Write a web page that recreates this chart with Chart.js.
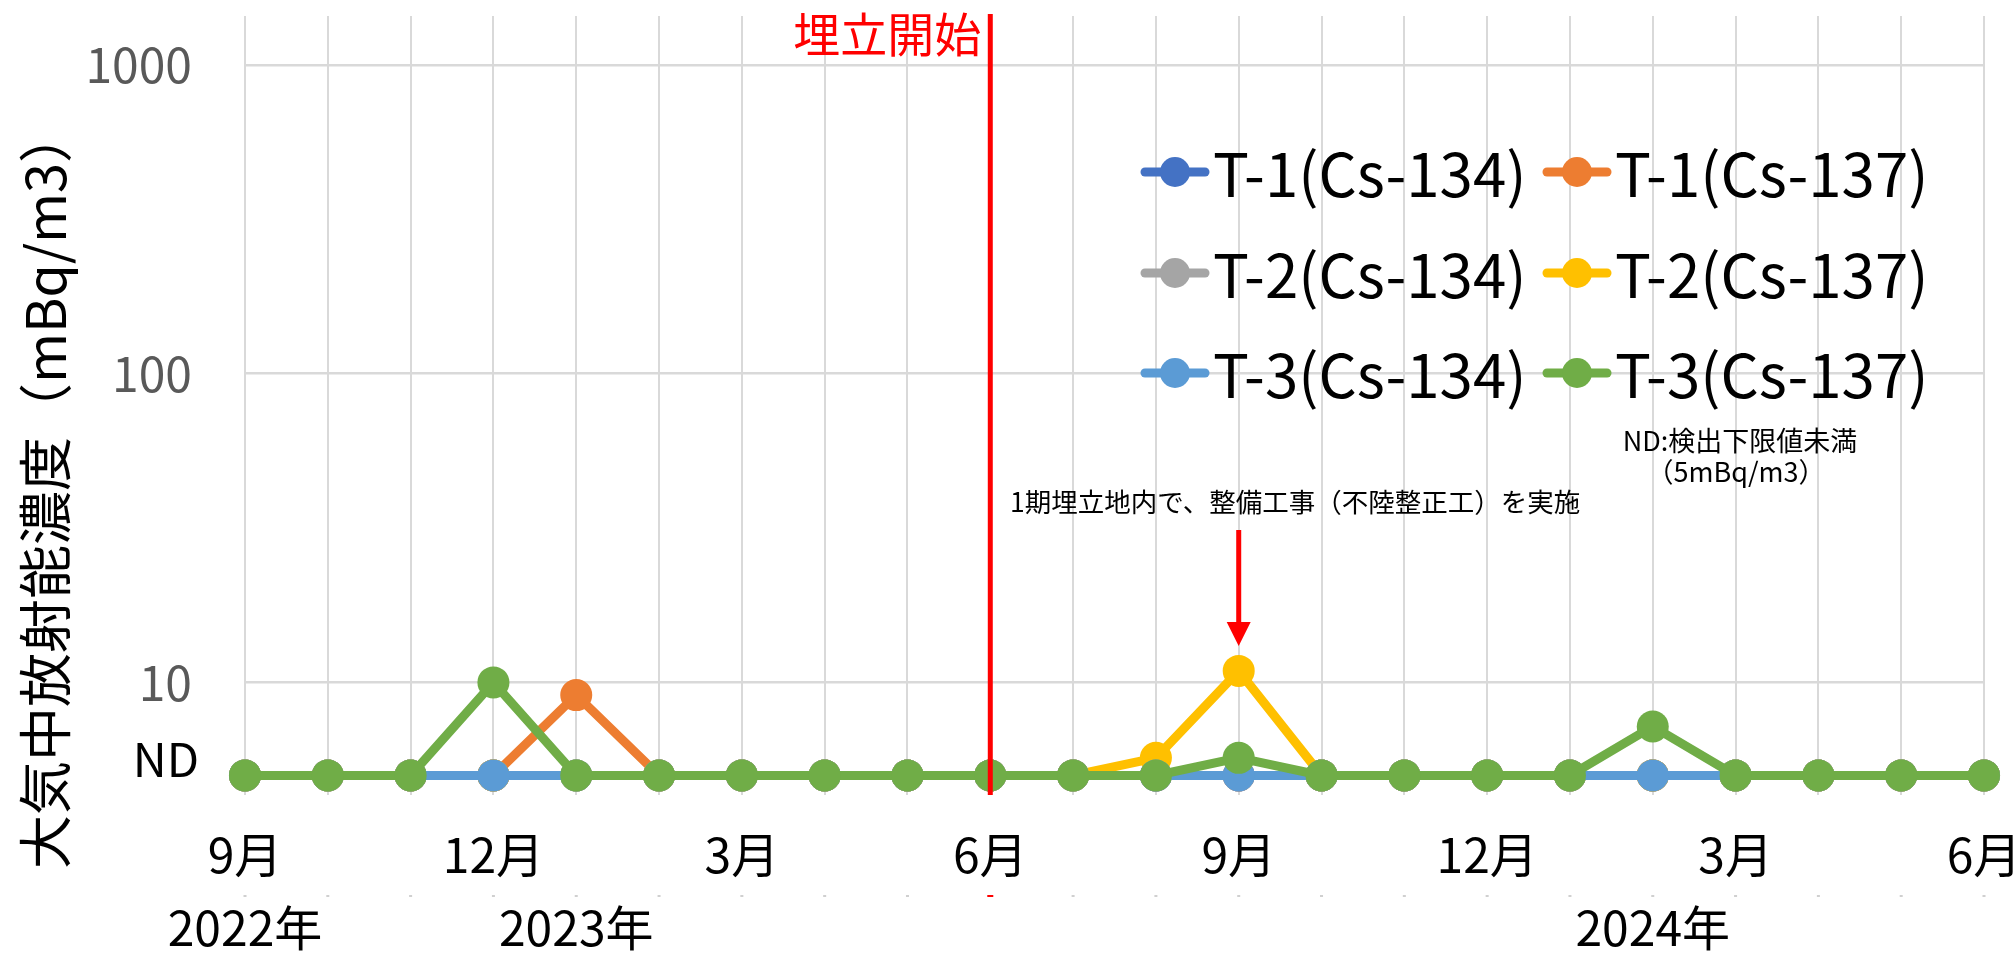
<!DOCTYPE html>
<html lang="ja">
<head>
<meta charset="utf-8">
<title>大気中放射能濃度</title>
<script src="https://cdn.jsdelivr.net/npm/chart.js@4.4.1/dist/chart.umd.min.js"></script>
<style>
  html, body { margin: 0; padding: 0; background: #fff; }
  #chart { display: block; }
</style>
</head>
<body>
<canvas id="chart" width="2016" height="953"></canvas>
<script>
// 2022年9月 〜 2024年6月（月次）
const months = [9, 10, 11, 12, 1, 2, 3, 4, 5, 6, 7, 8, 9, 10, 11, 12, 1, 2, 3, 4, 5, 6];
const yearRow = ['2022年', '', '', '', '2023年', '', '', '', '', '', '', '', '', '', '', '', '', '2024年', '', '', '', ''];

// ND (検出下限値未満) は 5 mBq/m3 としてプロット
const ndValue = 5;
const t1Cs134 = [5, 5, 5, 5, 5, 5, 5, 5, 5, 5, 5, 5, 5, 5, 5, 5, 5, 5, 5, 5, 5, 5];
const t1Cs137 = [5, 5, 5, 5, 9.1, 5, 5, 5, 5, 5, 5, 5, 5, 5, 5, 5, 5, 5, 5, 5, 5, 5];
const t2Cs134 = [5, 5, 5, 5, 5, 5, 5, 5, 5, 5, 5, 5, 5, 5, 5, 5, 5, 5, 5, 5, 5, 5];
const t2Cs137 = [5, 5, 5, 5, 5, 5, 5, 5, 5, 5, 5, 5.7, 10.9, 5, 5, 5, 5, 5, 5, 5, 5, 5];
const t3Cs134 = [5, 5, 5, 5, 5, 5, 5, 5, 5, 5, 5, 5, 5, 5, 5, 5, 5, 5, 5, 5, 5, 5];
const t3Cs137 = [5, 5, 5, 10, 5, 5, 5, 5, 5, 5, 5, 5, 5.7, 5, 5, 5, 5, 7.2, 5, 5, 5, 5];

const yTicks = [10, 100, 1000];
const startIndex = 9;   // 埋立開始 (2023年6月)
const workIndex = 12;   // 整備工事 (2023年9月)

const FONT = '"Noto Sans CJK JP", "Noto Sans", sans-serif';

const series = [
    {label: 'T-1(Cs-134)', data: t1Cs134, color: '#4472C4'},
    {label: 'T-1(Cs-137)', data: t1Cs137, color: '#ED7D31'},
    {label: 'T-2(Cs-134)', data: t2Cs134, color: '#A5A5A5'},
    {label: 'T-2(Cs-137)', data: t2Cs137, color: '#FFC000'},
    {label: 'T-3(Cs-134)', data: t3Cs134, color: '#5B9BD5'},
    {label: 'T-3(Cs-137)', data: t3Cs137, color: '#70AD47'}
];

const datasets = series.map((s, i) => ({
    label: s.label,
    data: s.data,
    borderColor: s.color,
    backgroundColor: s.color,
    pointBackgroundColor: s.color,
    pointBorderWidth: 0,
    pointRadius: 16,
    borderWidth: 9,
    tension: 0,
    clip: false,
    order: series.length - i
}));

const extras = {
    id: 'extras',
    afterDatasetsDraw(chart) {
        const {ctx, chartArea, scales: {x}} = chart;
        ctx.save();

        // 埋立開始ライン
        const sx = x.getPixelForValue(startIndex);
        ctx.strokeStyle = '#FF0000';
        ctx.lineWidth = 5;
        ctx.beginPath();
        ctx.moveTo(sx, chartArea.top - 2);
        ctx.lineTo(sx, chartArea.bottom);
        ctx.stroke();

        // 軸の区切り目盛り
        months.forEach((m, i) => {
            const red = i === startIndex;
            ctx.fillStyle = red ? '#FF0000' : '#D0D0D0';
            ctx.fillRect(x.getPixelForValue(i) - (red ? 3 : 1.5), 895, red ? 6 : 3, 2);
        });
        ctx.restore();
    },
    afterDraw(chart) {
        const {ctx, scales: {x, y}} = chart;
        ctx.save();

        // 縦軸タイトル
        ctx.save();
        ctx.translate(45, 489);
        ctx.rotate(-Math.PI / 2);
        ctx.fillStyle = '#000';
        ctx.font = '54px ' + FONT;
        ctx.textAlign = 'center';
        ctx.textBaseline = 'middle';
        ctx.fillText('大気中放射能濃度（mBq/m3）', 0, 0);
        ctx.restore();

        // ND ラベル
        ctx.fillStyle = '#000';
        ctx.font = '47px ' + FONT;
        ctx.textAlign = 'right';
        ctx.textBaseline = 'middle';
        ctx.fillText('ND', 199, y.getPixelForValue(ndValue) - 16);

        // 埋立開始
        const sx = x.getPixelForValue(startIndex);
        ctx.fillStyle = '#FF0000';
        ctx.font = '47px ' + FONT;
        ctx.textAlign = 'right';
        ctx.fillText('埋立開始', sx - 9, 34);

        // 整備工事の注記と矢印
        const wx = x.getPixelForValue(workIndex);
        ctx.fillStyle = '#000';
        ctx.font = '26.5px ' + FONT;
        ctx.textAlign = 'left';
        ctx.fillText('1期埋立地内で、整備工事（不陸整正工）を実施', 1010, 502);

        ctx.fillStyle = '#FF0000';
        ctx.fillRect(wx - 2.5, 530, 5, 94);
        ctx.beginPath();
        ctx.moveTo(wx - 12, 622);
        ctx.lineTo(wx + 12, 622);
        ctx.lineTo(wx, 646);
        ctx.closePath();
        ctx.fill();

        // ND 注記
        ctx.fillStyle = '#000';
        ctx.font = '27px ' + FONT;
        ctx.textAlign = 'center';
        ctx.fillText('ND:検出下限値未満', 1740, 441);
        ctx.fillText('（5mBq/m3）', 1736, 472);

        // 凡例
        const colX = [1175, 1577];
        const rowY = [172, 273, 373];
        chart.data.datasets.forEach((ds, i) => {
            const cx = colX[i % 2];
            const cy = rowY[Math.floor(i / 2)];
            ctx.strokeStyle = ds.borderColor;
            ctx.lineWidth = 9;
            ctx.lineCap = 'round';
            ctx.beginPath();
            ctx.moveTo(cx - 30, cy);
            ctx.lineTo(cx + 30, cy);
            ctx.stroke();
            ctx.fillStyle = ds.borderColor;
            ctx.beginPath();
            ctx.arc(cx, cy, 15, 0, Math.PI * 2);
            ctx.fill();
            ctx.fillStyle = '#000';
            ctx.font = '60px ' + FONT;
            ctx.textAlign = 'left';
            ctx.textBaseline = 'middle';
            ctx.fillText(ds.label, cx + 38, cy + 2);
        });
        ctx.restore();
    }
};

new Chart(document.getElementById('chart'), {
    type: 'line',
    data: {
        labels: months.map(m => m + '月'),
        datasets
    },
    options: {
        responsive: false,
        animation: false,
        devicePixelRatio: 1,
        layout: {padding: {top: 13, right: 32, left: 0, bottom: 0}},
        scales: {
            x: {
                type: 'category',
                offset: false,
                grid: {color: '#D9D9D9', lineWidth: 2, drawTicks: false},
                border: {display: false},
                ticks: {
                    autoSkip: false,
                    maxRotation: 0,
                    minRotation: 0,
                    padding: 23,
                    color: '#000',
                    font: {family: FONT, size: 48, lineHeight: 1.52},
                    callback: function (value, index) {
                        const m = months[index];
                        return [m % 3 === 0 ? m + '月' : '', yearRow[index]];
                    }
                },
                afterFit: function (scale) {
                    scale.height = 158;
                    scale.paddingLeft = 0;
                    scale.paddingRight = 0;
                }
            },
            y: {
                type: 'logarithmic',
                min: 4.32,
                max: 1439,
                grid: {color: '#D9D9D9', lineWidth: 2.5, drawTicks: false},
                border: {display: false},
                ticks: {
                    padding: 53,
                    color: '#595959',
                    font: {family: FONT, size: 48},
                    callback: value => String(value)
                },
                afterBuildTicks: function (scale) {
                    scale.ticks = yTicks.map(v => ({value: v}));
                },
                afterFit: function (scale) {
                    scale.width = 245;
                    scale.paddingTop = 0;
                    scale.paddingBottom = 0;
                }
            }
        },
        plugins: {
            legend: {display: false},
            tooltip: {enabled: false}
        }
    },
    plugins: [extras]
});
</script>
</body>
</html>
